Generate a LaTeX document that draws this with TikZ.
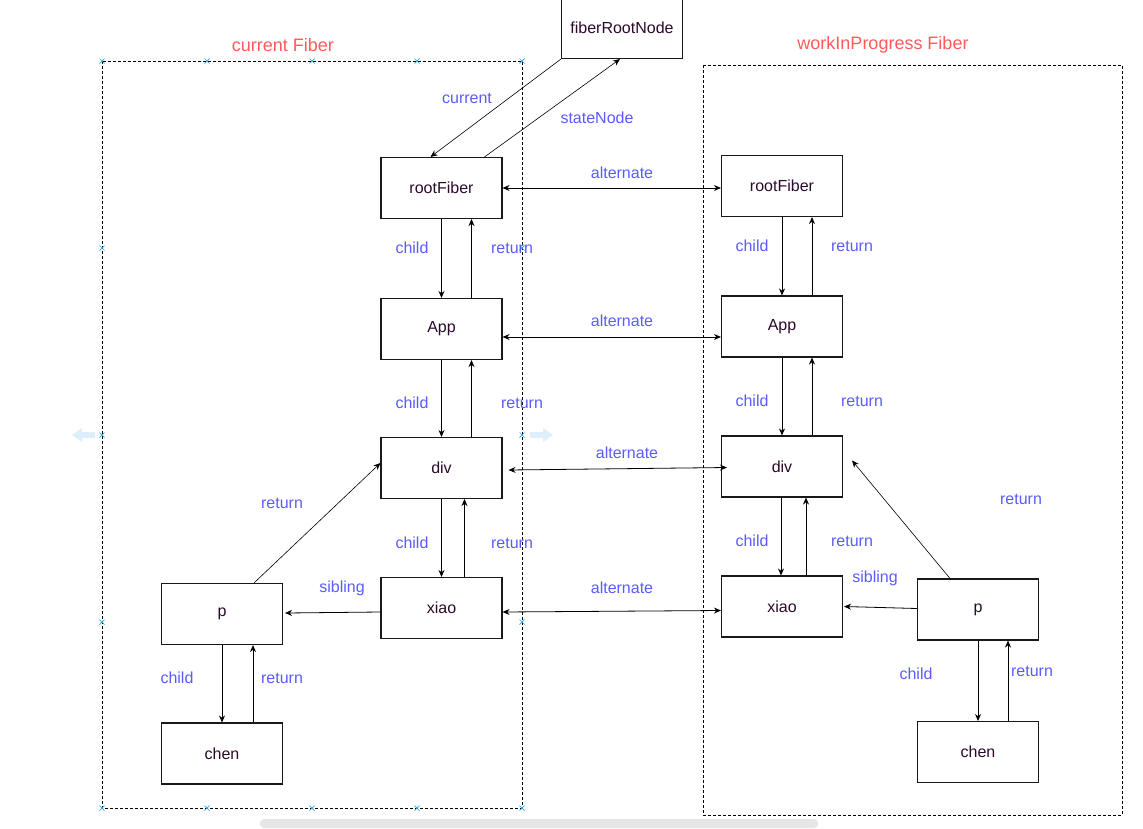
\documentclass[tikz,border=0pt]{standalone}
\usepackage{fontspec}
\setmainfont{Liberation Sans}
\usetikzlibrary{arrows.meta}
\definecolor{lbl}{HTML}{5B5BFF}
\definecolor{ttl}{HTML}{FF5A5A}
\definecolor{ntxt}{HTML}{2A0A2A}
\definecolor{selx}{HTML}{2AA8E0}
\definecolor{ghost}{HTML}{DCEFFB}
\definecolor{bar}{HTML}{E6E6E6}
\tikzset{
  fbox/.style={draw=black!90, line width=1.1pt, minimum width=121pt, minimum height=61pt, inner sep=0pt, text=ntxt, font=\fontsize{16}{18}\selectfont},
  lab/.style={text=lbl, font=\fontsize{16}{18}\selectfont, inner sep=0pt},
  ttlab/.style={text=ttl, font=\fontsize{18}{20}\selectfont, inner sep=0pt},
  conn/.style={draw=black, line width=0.8pt, -{Stealth[length=7pt,width=6pt]}},
  bconn/.style={draw=black, line width=0.8pt, {Stealth[length=7pt,width=6pt]}-{Stealth[length=7pt,width=6pt]}},
  thin/.style={draw=black, line width=0.6pt, -{Stealth[length=7pt,width=6pt]}},
  frame/.style={draw=black, line width=0.8pt, dash pattern=on 3pt off 2pt},
  xmark/.style={draw=selx, line width=0.7pt}
}
\begin{document}
\begin{tikzpicture}[x=1pt,y=-1pt]
\useasboundingbox (0,0) rectangle (1143,828);
% frames
\draw[frame] (102,61) rectangle (522,808);
\draw[frame] (703,65) rectangle (1122,815);
\node[ttlab] (tcur) at (283,45) {current Fiber};
\node[ttlab] (twip) at (883,45) {workInProgress Fiber};
% selection marks
\foreach \px/\py in {102/61,207/61,312/61,417/61,522/61,102/248,102/435,102/622,102/808,522/248,522/435,522/622,522/808,207/808,312/808,417/808}
  \draw[xmark] (\px-2.5,\py-2.5) -- (\px+2.5,\py+2.5) (\px-2.5,\py+2.5) -- (\px+2.5,\py-2.5);
% ghost arrows
\fill[ghost] (72,435) -- (82,428) -- (82,432) -- (95,432) -- (95,438) -- (82,438) -- (82,442) -- cycle;
\fill[ghost] (553,435) -- (543,428) -- (543,432) -- (530,432) -- (530,438) -- (543,438) -- (543,442) -- cycle;
% scrollbar
\fill[bar, rounded corners=4pt] (260,819) rectangle (818,828);
% nodes
\node[fbox] (froot) at (622,28) {fiberRootNode};
\node[fbox] (lroot) at (441.5,188) {rootFiber};
\node[fbox] (lapp) at (441.5,329) {App};
\node[fbox] (ldiv) at (441.5,468) {div};
\node[fbox] (lxiao) at (441.5,608) {xiao};
\node[fbox] (lp) at (222,614) {p};
\node[fbox] (lchen) at (222,753.5) {chen};
\node[fbox] (rroot) at (782,186) {rootFiber};
\node[fbox] (rapp) at (782,326.5) {App};
\node[fbox] (rdiv) at (782,466.5) {div};
\node[fbox] (rxiao) at (782,606.5) {xiao};
\node[fbox] (rp) at (978,609.5) {p};
\node[fbox] (rchen) at (978,752) {chen};
% root links
\draw[thin] (froot.south west) -- ([xshift=-11pt]lroot.north);
\draw[thin] ([xshift=43pt]lroot.north) -- ([xshift=-2pt]froot.south);
\node[lab] (lcur) at (467,98) {current};
\node[lab] (lsn) at (597,118) {stateNode};
% alternate
\draw[bconn] (lroot.east) -- (rroot.west |- lroot.east);
\draw[bconn] ([yshift=-8pt]lapp.east) -- ([yshift=-8pt]lapp.east -| rapp.west);
\draw[bconn] ([xshift=6pt,yshift=-2pt]ldiv.east) -- ([xshift=6pt,yshift=-1pt]rdiv.west);
\draw[bconn] ([yshift=-4pt]lxiao.east) -- ([yshift=-4pt]rxiao.west);
\node[lab] (a1) at (622,173) {alternate};
\node[lab] (a2) at (622,321) {alternate};
\node[lab] (a3) at (627,453) {alternate};
\node[lab] (a4) at (622,588) {alternate};
% left column child/return
\draw[conn] (lroot.south) -- (lapp.north);
\draw[conn] ([xshift=30pt]lapp.north) -- ([xshift=30pt]lroot.south);
\draw[conn] (lapp.south) -- (ldiv.north);
\draw[conn] ([xshift=30pt]ldiv.north) -- ([xshift=30pt]lapp.south);
\draw[conn] (ldiv.south) -- (lxiao.north);
\draw[conn] ([xshift=23pt]lxiao.north) -- ([xshift=23pt]ldiv.south);
\node[lab] (lc1) at (412,248) {child};
\node[lab] (lr1) at (512,248) {return};
\node[lab] (lc2) at (412,403) {child};
\node[lab] (lr2) at (522,403) {return};
\node[lab] (lc3) at (412,543) {child};
\node[lab] (lr3) at (512,543) {return};
% left p
\draw[thin] ([xshift=32pt]lp.north) -- ([yshift=5pt]ldiv.west);
\node[lab] (lr4) at (282,503) {return};
\draw[conn] ([yshift=-4pt]lxiao.west) -- ([xshift=2pt,yshift=1pt]lp.east);
\node[lab] (ls1) at (342,588) {sibling};
\draw[conn] (lp.south) -- (lchen.north);
\draw[conn] ([xshift=31pt]lchen.north) -- ([xshift=31pt]lp.south);
\node[lab] (lc4) at (177,678) {child};
\node[lab] (lr5) at (282,678) {return};
% right column child/return
\draw[conn] (rroot.south) -- (rapp.north);
\draw[conn] ([xshift=30pt]rapp.north) -- ([xshift=30pt]rroot.south);
\draw[conn] (rapp.south) -- (rdiv.north);
\draw[conn] ([xshift=30pt]rdiv.north) -- ([xshift=30pt]rapp.south);
\draw[conn] ([xshift=-1pt]rdiv.south) -- ([xshift=-1pt]rxiao.north);
\draw[conn] ([xshift=24pt]rxiao.north) -- ([xshift=24pt]rdiv.south);
\node[lab] (rc1) at (752,246) {child};
\node[lab] (rr1) at (852,246) {return};
\node[lab] (rc2) at (752,401) {child};
\node[lab] (rr2) at (862,401) {return};
\node[lab] (rc3) at (752,541) {child};
\node[lab] (rr3) at (852,541) {return};
% right p
\draw[thin] ([xshift=-28pt]rp.north) -- ([xshift=9pt,yshift=6pt]rdiv.east);
\node[lab] (rr4) at (1021,499) {return};
\draw[conn] ([yshift=1pt]rp.west) -- ([xshift=1pt]rxiao.east);
\node[lab] (rs1) at (875,578) {sibling};
\draw[conn] (rp.south) -- (rchen.north);
\draw[conn] ([xshift=30pt]rchen.north) -- ([xshift=30pt]rp.south);
\node[lab] (rc4) at (916,674) {child};
\node[lab] (rr5) at (1032,671) {return};
\end{tikzpicture}
\end{document}
